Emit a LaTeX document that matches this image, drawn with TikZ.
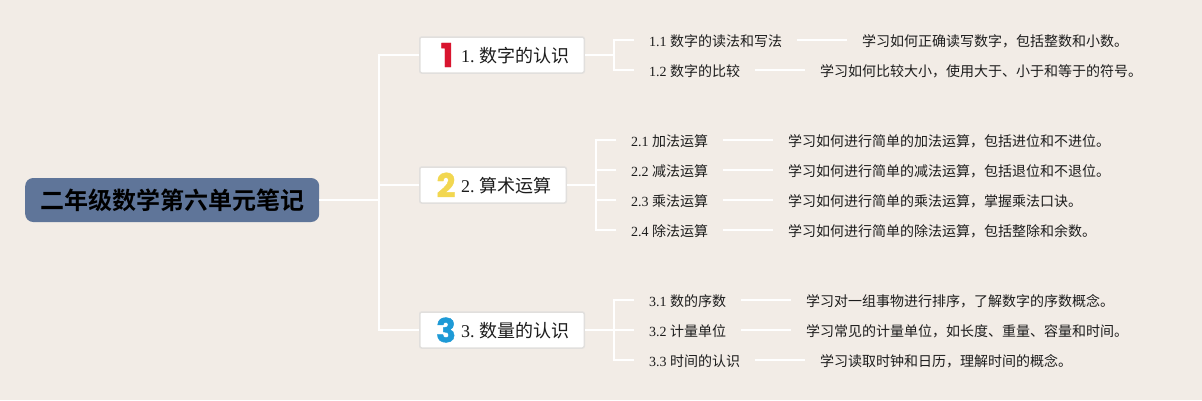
\documentclass[tikz,border=0pt]{standalone}
\usepackage{fontspec}
\setmainfont{Liberation Serif}
\newfontfamily\cjk{Noto Sans CJK SC}
\newfontfamily\cjkb{Noto Sans CJK SC Bold}
\newfontfamily\numf[FakeBold=1.2]{Poppins Bold}
\definecolor{bgc}{HTML}{F2ECE6}
\definecolor{rootc}{HTML}{5F7599}
\definecolor{boxl}{HTML}{E1DFDD}
\definecolor{txt}{HTML}{1C1C1C}
\definecolor{redi}{HTML}{D9152F}
\definecolor{yeli}{HTML}{F2D750}
\definecolor{blui}{HTML}{1E9AD6}
\newcommand{\sz}[1]{\fontsize{#1}{#1}\selectfont}
\tikzset{
 conn/.style={draw=white,line width=2pt},
 rootbox/.style={draw=none,fill=rootc,rounded corners=8pt,minimum width=294pt,minimum height=44pt,inner sep=0pt,font=\cjkb\sz{24},text=black,anchor=west},
 mainbox/.style={draw=boxl,line width=1.5pt,fill=white,rounded corners=2pt,minimum height=36pt,inner sep=0pt,anchor=west},
 icon/.style={inner sep=0pt,font=\numf\sz{33},anchor=center},
 mainlabel/.style={inner sep=0pt,font=\sz{18},text=txt,anchor=west},
 sublabel/.style={inner xsep=15pt,inner ysep=0pt,font=\sz{14},text=txt,anchor=west},
 leaf/.style={inner xsep=15pt,inner ysep=0pt,font=\cjk\sz{14},text=txt,anchor=west},
}
\begin{document}
\begin{tikzpicture}[x=1pt,y=-1pt]
\useasboundingbox[fill=bgc] (0,0) rectangle (1202,400);
\node[rootbox] (root) at (25,200) {二年级数学第六单元笔记};
\coordinate (trunk) at (379,200);
\coordinate (j1) at (614,55);
\coordinate (j2) at (596,185);
\coordinate (j3) at (614,330);

\node[mainbox,minimum width=164.5pt] (m1) at (419,55) {};
\node[mainbox,minimum width=146.5pt] (m2) at (419,185) {};
\node[mainbox,minimum width=164.5pt] (m3) at (419,330) {};
\node[icon,text=redi] (i1) at (447,55) {1};
\node[icon,text=yeli] (i2) at (446,185) {2};
\node[icon,text=blui] (i3) at (446,330) {3};
\node[mainlabel] (l1) at (461,56) {1.\kern4.5pt{\cjk 数字的认识}};
\node[mainlabel] (l2) at (461,186) {2.\kern4.5pt{\cjk 算术运算}};
\node[mainlabel] (l3) at (461,331) {3.\kern4.5pt{\cjk 数量的认识}};

\node[sublabel] (s11) at (634,41) {1.1 {\cjk 数字的读法和写法}};
\node[sublabel] (s12) at (634,71) {1.2 {\cjk 数字的比较}};
\node[sublabel] (s21) at (616,141) {2.1 {\cjk 加法运算}};
\node[sublabel] (s22) at (616,171) {2.2 {\cjk 减法运算}};
\node[sublabel] (s23) at (616,201) {2.3 {\cjk 乘法运算}};
\node[sublabel] (s24) at (616,231) {2.4 {\cjk 除法运算}};
\node[sublabel] (s31) at (634,301) {3.1 {\cjk 数的序数}};
\node[sublabel] (s32) at (634,331) {3.2 {\cjk 计量单位}};
\node[sublabel] (s33) at (634,361) {3.3 {\cjk 时间的认识}};

\node[leaf] (f11) at (847,41) {学习如何正确读写数字，包括整数和小数。};
\node[leaf] (f12) at (805,71) {学习如何比较大小，使用大于、小于和等于的符号。};
\node[leaf] (f21) at (773,141) {学习如何进行简单的加法运算，包括进位和不进位。};
\node[leaf] (f22) at (773,171) {学习如何进行简单的减法运算，包括退位和不退位。};
\node[leaf] (f23) at (773,201) {学习如何进行简单的乘法运算，掌握乘法口诀。};
\node[leaf] (f24) at (773,231) {学习如何进行简单的除法运算，包括整除和余数。};
\node[leaf] (f31) at (791,301) {学习对一组事物进行排序，了解数字的序数概念。};
\node[leaf] (f32) at (791,331) {学习常见的计量单位，如长度、重量、容量和时间。};
\node[leaf] (f33) at (805,361) {学习读取时钟和日历，理解时间的概念。};

\draw[conn] (root.east) -- (trunk);
\foreach \m in {m1,m2,m3} \draw[conn] (\m.west) -| (trunk);
\draw[conn] (m1.east) -- (j1);
\draw[conn] (m2.east) -- (j2);
\draw[conn] (m3.east) -- (j3);
\foreach \s in {s11,s12} \draw[conn] ([yshift=1pt]\s.west) -| (j1);
\foreach \s in {s21,s22,s23,s24} \draw[conn] ([yshift=1pt]\s.west) -| (j2);
\foreach \s in {s31,s32,s33} \draw[conn] ([yshift=1pt]\s.west) -| (j3);
\foreach \a/\b in {s11/f11,s12/f12,s21/f21,s22/f22,s23/f23,s24/f24,s31/f31,s32/f32,s33/f33}
  \draw[conn] ([yshift=1pt]\a.east) -- ([yshift=1pt]\b.west);
\end{tikzpicture}
\end{document}
